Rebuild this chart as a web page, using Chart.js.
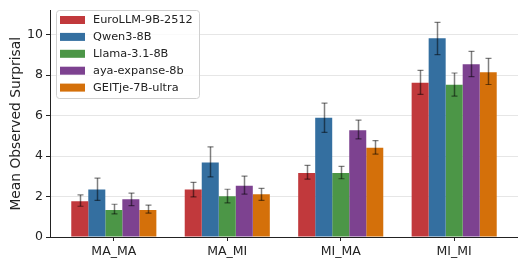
<!DOCTYPE html>
<html>
<head>
<meta charset="utf-8">
<script src="https://cdn.jsdelivr.net/npm/chart.js@4.4.1/dist/chart.umd.min.js"></script>
<style>
  body { margin: 0; background: #fff; }
  canvas { display: block; }
</style>
</head>
<body>
<canvas id="bars" width="518" height="258"></canvas>
<script>
const categories = ['MA_MA', 'MA_MI', 'MI_MA', 'MI_MI'];
const models = ['EuroLLM-9B-2512', 'Qwen3-8B', 'Llama-3.1-8B', 'aya-expanse-8b', 'GEITje-7B-ultra'];
const colors = ['#c1393c', '#346fa0', '#4c9647', '#7d4290', '#d4700a'];
const yTicks = [0, 2, 4, 6, 8, 10];

// means and error bar ends, one array per model
const eurollmMean = [1.77, 2.35, 3.17, 7.63];
const eurollmLow  = [1.52, 1.98, 2.86, 7.05];
const eurollmHigh = [2.08, 2.70, 3.54, 8.24];
const qwenMean = [2.35, 3.69, 5.90, 9.83];
const qwenLow  = [1.81, 2.97, 5.17, 9.02];
const qwenHigh = [2.91, 4.46, 6.62, 10.61];
const llamaMean = [1.34, 2.01, 3.17, 7.53];
const llamaLow  = [1.14, 1.69, 2.88, 6.97];
const llamaHigh = [1.62, 2.36, 3.49, 8.11];
const ayaMean = [1.87, 2.54, 5.28, 8.54];
const ayaLow  = [1.55, 2.12, 4.85, 7.93];
const ayaHigh = [2.17, 3.01, 5.78, 9.18];
const geitjeMean = [1.34, 2.11, 4.41, 8.15];
const geitjeLow  = [1.18, 1.81, 4.10, 7.54];
const geitjeHigh = [1.58, 2.40, 4.77, 8.83];

const means = [eurollmMean, qwenMean, llamaMean, ayaMean, geitjeMean];
const lows = [eurollmLow, qwenLow, llamaLow, ayaLow, geitjeLow];
const highs = [eurollmHigh, qwenHigh, llamaHigh, ayaHigh, geitjeHigh];

const FONT = 'DejaVu Sans';

const errorBars = {
  id: 'errorBars',
  afterDatasetsDraw(chart) {
    const ctx = chart.ctx;
    const y = chart.scales.y;
    ctx.save();
    ctx.strokeStyle = 'rgba(0,0,0,0.5)';
    chart.data.datasets.forEach((ds, di) => {
      const meta = chart.getDatasetMeta(di);
      meta.data.forEach((bar, i) => {
        const x = Math.round(bar.x) + 0.5;
        const top = y.getPixelForValue(ds.errHigh[i]);
        const bot = y.getPixelForValue(ds.errLow[i]);
        ctx.lineWidth = 1.5;
        ctx.beginPath();
        ctx.moveTo(x, top);
        ctx.lineTo(x, bot);
        ctx.stroke();
        ctx.lineWidth = 1.2;
        ctx.beginPath();
        ctx.moveTo(x - 3, top);
        ctx.lineTo(x + 3, top);
        ctx.moveTo(x - 3, bot);
        ctx.lineTo(x + 3, bot);
        ctx.stroke();
      });
    });
    ctx.restore();
  }
};

const boxLegend = {
  id: 'boxLegend',
  afterDraw(chart) {
    const ctx = chart.ctx;
    ctx.save();
    ctx.beginPath();
    ctx.roundRect(56.5, 10.5, 143, 88, 3);
    ctx.fillStyle = 'rgba(255,255,255,0.8)';
    ctx.fill();
    ctx.strokeStyle = '#d0d0d0';
    ctx.lineWidth = 1;
    ctx.stroke();
    ctx.font = '11.3px "' + FONT + '"';
    ctx.textBaseline = 'middle';
    chart.data.datasets.forEach((ds, i) => {
      const cy = 20 + i * 16.9;
      ctx.fillStyle = ds.backgroundColor;
      ctx.fillRect(60, cy - 4, 25, 8);
      ctx.fillStyle = '#222';
      ctx.fillText(ds.label, 93, cy + 0.5);
    });
    ctx.restore();
  }
};

new Chart(document.getElementById('bars'), {
  type: 'bar',
  data: {
    datasets: models.map((m, k) => ({
      label: m,
      data: means[k].map((v, i) => ({ x: i, y: v })),
      errLow: lows[k],
      errHigh: highs[k],
      backgroundColor: colors[k],
      borderWidth: 0,
      categoryPercentage: 0.75,
      barPercentage: 1
    }))
  },
  options: {
    responsive: false,
    animation: false,
    layout: { padding: { top: 3, right: 0, left: 0, bottom: 0 } },
    plugins: { legend: { display: false }, tooltip: { enabled: false } },
    scales: {
      x: {
        type: 'linear',
        offset: false,
        min: -0.5625,
        max: 3.5625,
        afterBuildTicks: axis => { axis.ticks = categories.map((c, i) => ({ value: i })); },
        afterFit: axis => { axis.height = 21; },
        ticks: {
          callback: v => categories[v],
          font: { family: FONT, size: 12.5 },
          color: '#222',
          padding: 3,
          maxRotation: 0,
          autoSkip: false
        },
        grid: {
          offset: false,
          drawOnChartArea: false,
          color: 'rgba(0,0,0,0)',
          tickColor: '#222',
          tickLength: 4
        },
        border: { display: true, color: '#222', width: 1 }
      },
      y: {
        min: 0,
        max: 11.2,
        afterBuildTicks: axis => { axis.ticks = yTicks.map(v => ({ value: v })); },
        afterFit: axis => { axis.width = 50; },
        ticks: {
          font: { family: FONT, size: 12.5 },
          color: '#222',
          padding: 3
        },
        grid: {
          color: '#e6e6e6',
          lineWidth: 1,
          tickColor: '#222',
          tickLength: 4
        },
        border: { display: true, color: '#222', width: 1 },
        title: {
          display: true,
          text: 'Mean Observed Surprisal',
          font: { family: FONT, size: 13.8 },
          color: '#222',
          padding: { top: 8, bottom: 0 }
        }
      }
    }
  },
  plugins: [errorBars, boxLegend]
});
</script>
</body>
</html>
